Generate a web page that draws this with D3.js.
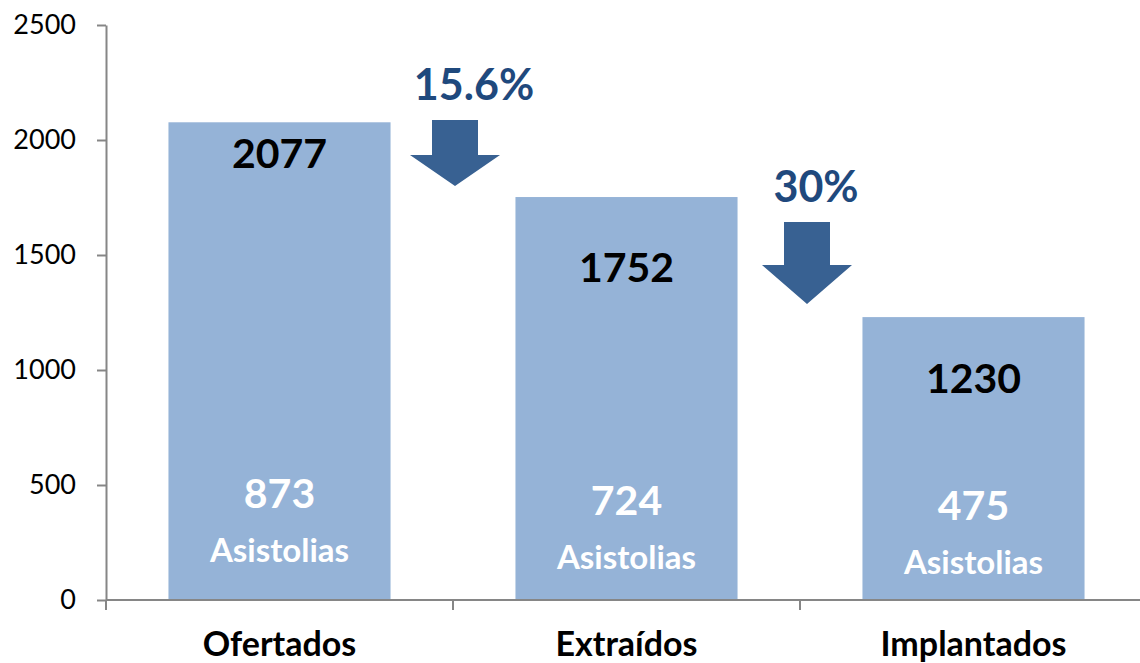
<!DOCTYPE html>
<html>
<head>
<meta charset="utf-8">
<script src="https://cdn.jsdelivr.net/npm/d3@7"></script>
<style>
body { margin: 0; background: white; }
svg text { font-family: Lato, "Open Sans", sans-serif; }
</style>
</head>
<body>
<script>
const categories = ["Ofertados", "Extraídos", "Implantados"];
const totals = [2077, 1752, 1230];
const asistolias = [873, 724, 475];
const yTicks = [0, 500, 1000, 1500, 2000, 2500];
const drops = ["15.6%", "30%"];

const width = 1140, height = 663;
const margin = {top: 25, right: -7, bottom: 63, left: 106};

const svg = d3.select("body").append("svg")
  .attr("width", width).attr("height", height);

const x = d3.scaleBand()
  .domain(categories)
  .range([margin.left, width - margin.right])
  .paddingInner(0.36)
  .paddingOuter(0.18);

const y = d3.scaleLinear()
  .domain([0, 2500])
  .range([height - margin.bottom, margin.top]);

const axisColor = "#868686";

// y axis
const yAxis = svg.append("g")
  .attr("transform", `translate(${margin.left},0)`)
  .call(d3.axisLeft(y).tickValues(yTicks).tickFormat(d3.format("d"))
    .tickSize(9).tickPadding(21).tickSizeOuter(0));
yAxis.select(".domain").attr("stroke", axisColor).attr("stroke-width", 2);
yAxis.selectAll(".tick line").attr("stroke", axisColor).attr("stroke-width", 2);
yAxis.selectAll(".tick text").attr("font-size", 27).attr("fill", "black")
  .attr("font-family", "Lato, sans-serif");

// bars
svg.selectAll("rect.bar").data(totals).enter()
  .append("rect")
  .attr("class", "bar")
  .attr("x", (d, i) => x(categories[i]))
  .attr("y", d => y(d))
  .attr("width", x.bandwidth())
  .attr("height", d => y(0) - y(d))
  .attr("fill", "#95b3d7");

// x axis
const x0 = y(0);
svg.append("line")
  .attr("x1", margin.left).attr("x2", width)
  .attr("y1", x0).attr("y2", x0)
  .attr("stroke", axisColor).attr("stroke-width", 2);
const bounds = d3.range(categories.length).map(i => x.range()[0] + i * x.step());
svg.selectAll("line.xtick").data(bounds).enter()
  .append("line")
  .attr("x1", d => d).attr("x2", d => d)
  .attr("y1", x0).attr("y2", x0 + 10)
  .attr("stroke", axisColor).attr("stroke-width", 2);

svg.selectAll("text.cat").data(categories).enter()
  .append("text")
  .attr("x", d => x(d) + x.bandwidth() / 2)
  .attr("y", 656)
  .attr("text-anchor", "middle")
  .attr("font-size", 34).attr("font-weight", "bold")
  .text(d => d);

// total labels
const totalOffset = [46, 85, 76];
svg.selectAll("text.total").data(totals).enter()
  .append("text")
  .attr("x", (d, i) => x(categories[i]) + x.bandwidth() / 2)
  .attr("y", (d, i) => y(d) + totalOffset[i])
  .attr("text-anchor", "middle")
  .attr("font-size", 41).attr("font-weight", "bold").attr("fill", "black")
  .text(d => d);

// asistolias labels
const asiShift = [0, 7, 12];
svg.selectAll("text.asi").data(asistolias).enter()
  .append("text")
  .attr("x", (d, i) => x(categories[i]) + x.bandwidth() / 2)
  .attr("y", (d, i) => 508 + asiShift[i])
  .attr("text-anchor", "middle")
  .attr("font-size", 41).attr("font-weight", "bold").attr("fill", "white")
  .text(d => d);
svg.selectAll("text.asi2").data(asistolias).enter()
  .append("text")
  .attr("x", (d, i) => x(categories[i]) + x.bandwidth() / 2)
  .attr("y", (d, i) => 562 + asiShift[i])
  .attr("text-anchor", "middle")
  .attr("font-size", 33).attr("font-weight", "bold").attr("fill", "white")
  .text("Asistolias");

// drop arrows between bars
const arrowTop = [2087, 1643];
const arrowDx = [2, 7];
const arrowShaft = [35, 43];
const arrowHead = [31, 39];
const arrowColor = "#386192";
drops.forEach((label, i) => {
  const cx = bounds[i + 1] + arrowDx[i];
  const top = y(arrowTop[i]);
  const s = arrowShaft[i], h = arrowHead[i];
  const path = d3.path();
  path.moveTo(cx - 23, top);
  path.lineTo(cx + 23, top);
  path.lineTo(cx + 23, top + s);
  path.lineTo(cx + 45, top + s);
  path.lineTo(cx, top + s + h);
  path.lineTo(cx - 45, top + s);
  path.lineTo(cx - 23, top + s);
  path.closePath();
  svg.append("path").attr("d", path.toString()).attr("fill", arrowColor);
  svg.append("text")
    .attr("x", cx + (i === 0 ? 19 : 9))
    .attr("y", top - 20)
    .attr("text-anchor", "middle")
    .attr("font-size", 43).attr("font-weight", "bold").attr("fill", "#1f497d")
    .text(label);
});
</script>
</body>
</html>
